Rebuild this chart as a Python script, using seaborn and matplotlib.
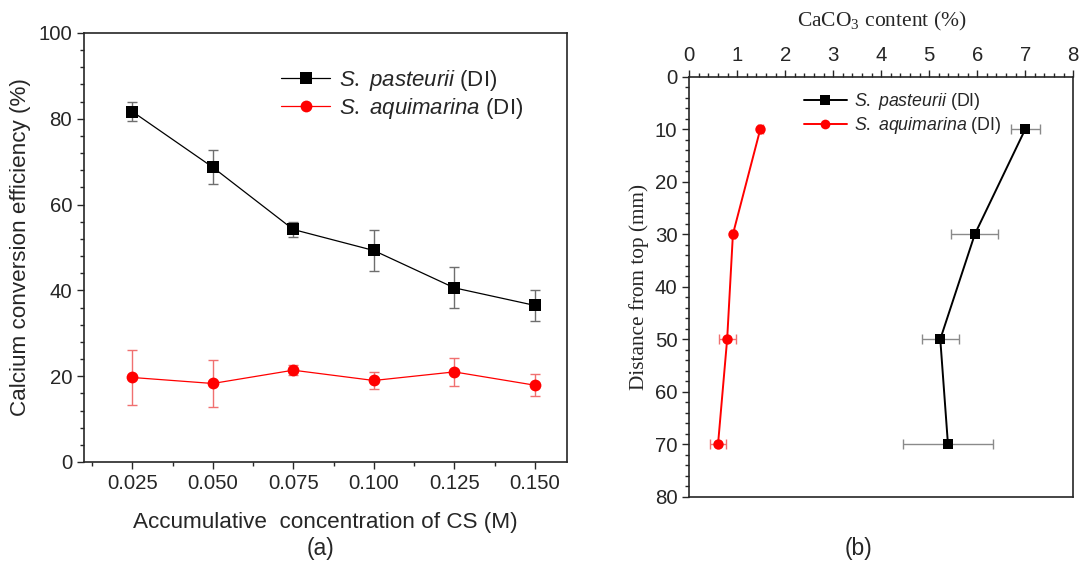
import numpy as np
import pandas as pd
import matplotlib
matplotlib.use("Agg")
import matplotlib.pyplot as plt
from matplotlib.ticker import MultipleLocator
import seaborn as sns

# Panel (a): calcium conversion efficiency vs accumulative CS concentration
conc = [0.025, 0.050, 0.075, 0.100, 0.125, 0.150]
pasteurii_eff = [81.7, 68.7, 54.2, 49.3, 40.6, 36.5]
pasteurii_eff_err = [2.1, 4.0, 1.7, 4.7, 4.8, 3.7]
aquimarina_eff = [19.7, 18.3, 21.4, 19.0, 21.0, 17.9]
aquimarina_eff_err = [6.5, 5.5, 1.1, 1.9, 3.2, 2.5]

# Panel (b): CaCO3 content profile vs depth
depth = [10, 30, 50, 70]
pasteurii_caco3 = [7.00, 5.95, 5.23, 5.39]
pasteurii_caco3_err = [0.30, 0.49, 0.39, 0.94]
aquimarina_caco3 = [1.48, 0.91, 0.79, 0.60]
aquimarina_caco3_err = [0.05, 0.05, 0.18, 0.17]

series_names = ["S. pasteurii (DI)", "S. aquimarina (DI)"]
legend_labels = [r"$\it{S.\ pasteurii}$ (DI)", r"$\it{S.\ aquimarina}$ (DI)"]

sns.set_style("ticks")
plt.rcParams["font.family"] = ["Liberation Sans", "DejaVu Sans"]
plt.rcParams["mathtext.fontset"] = "custom"
plt.rcParams["mathtext.rm"] = "Liberation Serif"
plt.rcParams["mathtext.it"] = "Liberation Sans:italic"
plt.rcParams["axes.linewidth"] = 1.2

fig = plt.figure(figsize=(10.82, 5.67), dpi=100)
ax1 = fig.add_axes([0.0776, 0.1852, 0.4464, 0.7566])
ax2 = fig.add_axes([0.637, 0.124, 0.3549, 0.7407])

palette = {series_names[0]: "black", series_names[1]: "red"}
markers = {series_names[0]: "s", series_names[1]: "o"}
tick_size = 14.7

# ---- panel (a)
df_a = pd.DataFrame({
    "conc": conc * 2,
    "eff": pasteurii_eff + aquimarina_eff,
    "strain": [series_names[0]] * len(conc) + [series_names[1]] * len(conc),
})
ax1.errorbar(conc, pasteurii_eff, yerr=pasteurii_eff_err, fmt="none",
             ecolor="#6e6e6e", elinewidth=1.0, capsize=3.5, capthick=1.0, zorder=1)
ax1.errorbar(conc, aquimarina_eff, yerr=aquimarina_eff_err, fmt="none",
             ecolor="#f07070", elinewidth=1.0, capsize=3.5, capthick=1.0, zorder=1)
sns.lineplot(data=df_a, x="conc", y="eff", hue="strain", style="strain",
             palette=palette, markers=markers, dashes=False, ax=ax1,
             linewidth=0.9, markersize=8.5, markeredgewidth=0, zorder=3,
             legend=False)
ax1.set_xlim(0.010, 0.160)
ax1.set_ylim(0, 100)
ax1.xaxis.set_major_locator(MultipleLocator(0.025))
ax1.xaxis.set_minor_locator(MultipleLocator(0.0125))
ax1.yaxis.set_major_locator(MultipleLocator(20))
ax1.yaxis.set_minor_locator(MultipleLocator(4))
ax1.set_xticks(conc)
ax1.set_xticklabels([f"{c:.3f}" for c in conc])
ax1.tick_params(which="both", direction="out", labelsize=tick_size, width=1.0)
ax1.tick_params(which="major", length=5)
ax1.tick_params(which="minor", length=3)
for s in ax1.spines.values():
    s.set_visible(True)
ax1.set_xlabel("Accumulative  concentration of CS (M)", fontsize=16.2, labelpad=14)
ax1.set_ylabel("Calcium conversion efficiency (%)", fontsize=16.2, labelpad=5)

handles_a = [
    plt.Line2D([], [], color="black", marker="s", markersize=8.5, lw=0.9, markeredgewidth=0),
    plt.Line2D([], [], color="red", marker="o", markersize=8.5, lw=0.9, markeredgewidth=0),
]
ax1.legend(handles_a, legend_labels, loc="upper left", bbox_to_anchor=(0.39, 0.94),
           frameon=False, fontsize=16, handlelength=2.2, handletextpad=0.4,
           labelspacing=0.15, borderaxespad=0)

# ---- panel (b)
df_b = pd.DataFrame({
    "depth": depth * 2,
    "caco3": pasteurii_caco3 + aquimarina_caco3,
    "strain": [series_names[0]] * len(depth) + [series_names[1]] * len(depth),
})
ax2.errorbar(pasteurii_caco3, depth, xerr=pasteurii_caco3_err, fmt="none",
             ecolor="#8a8a8a", elinewidth=1.0, capsize=3.5, capthick=1.0, zorder=1)
ax2.errorbar(aquimarina_caco3, depth, xerr=aquimarina_caco3_err, fmt="none",
             ecolor="#f07070", elinewidth=1.0, capsize=3.5, capthick=1.0, zorder=1)
sns.lineplot(data=df_b, x="caco3", y="depth", hue="strain", style="strain",
             palette=palette, markers=markers, dashes=False, ax=ax2,
             orient="y", linewidth=1.4, markersize=7.5, markeredgewidth=0,
             zorder=3, legend=False)
ax2.set_xlim(0, 8)
ax2.set_ylim(80, 0)
ax2.xaxis.set_major_locator(MultipleLocator(1))
ax2.xaxis.set_minor_locator(MultipleLocator(0.2))
ax2.yaxis.set_major_locator(MultipleLocator(10))
ax2.yaxis.set_minor_locator(MultipleLocator(2))
ax2.xaxis.tick_top()
ax2.xaxis.set_label_position("top")
ax2.tick_params(which="both", direction="out", labelsize=tick_size, width=1.0)
ax2.tick_params(which="major", length=5)
ax2.tick_params(which="minor", length=3)
for s in ax2.spines.values():
    s.set_visible(True)
ax2.set_xlabel(r"CaCO$_3$ content (%)", fontsize=15.5, labelpad=14,
               family="Liberation Serif")
ax2.set_ylabel("Distance from top (mm)", fontsize=15.3, labelpad=4,
               family="Liberation Serif")

handles_b = [
    plt.Line2D([], [], color="black", marker="s", markersize=7, lw=1.4, markeredgewidth=0),
    plt.Line2D([], [], color="red", marker="o", markersize=7, lw=1.4, markeredgewidth=0),
]
ax2.legend(handles_b, legend_labels, loc="upper left", bbox_to_anchor=(0.28, 0.982),
           frameon=False, fontsize=12.8, handlelength=2.4, handletextpad=0.4,
           labelspacing=0.15, borderaxespad=0)

fig.text(0.296, 0.033, "(a)", ha="center", va="center", fontsize=16.5)
fig.text(0.793, 0.033, "(b)", ha="center", va="center", fontsize=16.5)

fig.savefig("out.png", dpi=100)
